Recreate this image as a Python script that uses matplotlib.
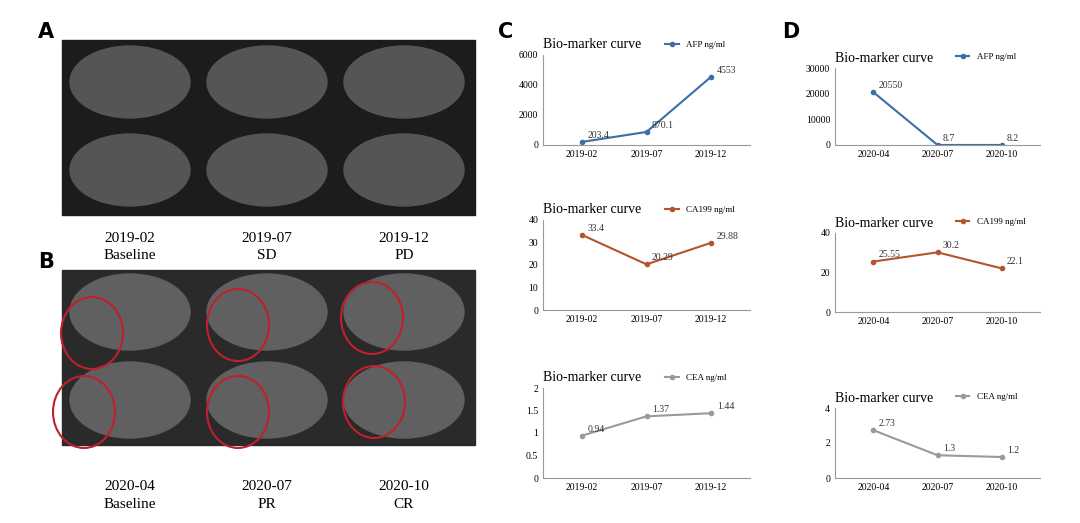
import matplotlib
matplotlib.use("Agg")
import matplotlib.pyplot as plt
from matplotlib.patches import Ellipse, Rectangle

W, H = 1080, 523

c_dates = ["2019-02", "2019-07", "2019-12"]
d_dates = ["2020-04", "2020-07", "2020-10"]
c_afp = [203.4, 870.1, 4553]
c_ca199 = [33.4, 20.29, 29.88]
c_cea = [0.94, 1.37, 1.44]
d_afp = [20550, 8.7, 8.2]
d_ca199 = [25.55, 30.2, 22.1]
d_cea = [2.73, 1.3, 1.2]

a_labels = [("2019-02", "Baseline"), ("2019-07", "SD"), ("2019-12", "PD")]
b_labels = [("2020-04", "Baseline"), ("2020-07", "PR"), ("2020-10", "CR")]

fig = plt.figure(figsize=(W / 100, H / 100), dpi=100)
plt.rcParams["font.family"] = "Liberation Serif"


def px_axes(x0, y0, x1, y1):
    return fig.add_axes([x0 / W, 1 - y1 / H, (x1 - x0) / W, (y1 - y0) / H])


# image panels (placeholders for the MRI scans)
bg = px_axes(0, 0, W, H)
bg.set_xlim(0, W)
bg.set_ylim(H, 0)
bg.axis("off")
bg.add_patch(Rectangle((62, 40), 413, 175, color="#1c1c1c"))
bg.add_patch(Rectangle((62, 270), 413, 175, color="#2a2a2a"))
for i in range(3):
    for j in range(2):
        cx = 62 + 137 * i + 68
        bg.add_patch(Ellipse((cx, 82 + 88 * j), 120, 72, color="#555555"))
        bg.add_patch(Ellipse((cx, 312 + 88 * j), 120, 76, color="#606060"))
for cx, cy in [(92, 333), (238, 325), (372, 318), (84, 412), (238, 412), (374, 402)]:
    bg.add_patch(Ellipse((cx, cy), 62, 72, fill=False, ec="#c0202a", lw=1.5))
for k, (d, s) in enumerate(a_labels):
    x = 130 + 137 * k
    bg.text(x, 242, d, ha="center", fontsize=11)
    bg.text(x, 259, s, ha="center", fontsize=11)
for k, (d, s) in enumerate(b_labels):
    x = 130 + 137 * k
    bg.text(x, 490, d, ha="center", fontsize=11)
    bg.text(x, 508, s, ha="center", fontsize=11)
for lbl, x, y in [("A", 38, 38), ("B", 38, 268), ("C", 498, 38), ("D", 782, 38)]:
    bg.text(x, y, lbl, fontsize=15, fontweight="bold", family="DejaVu Sans")


def chart(box, dates, vals, color, name, ylim, yticks, fmt):
    ax = px_axes(*box)
    xs = range(len(dates))
    ax.plot(xs, vals, color=color, lw=1.5, marker="o", ms=3, label=name)
    ax.set_xlim(-0.6, 2.6)
    ax.set_ylim(*ylim)
    ax.set_yticks(yticks)
    ax.set_yticklabels([fmt(t) for t in yticks], fontsize=7)
    ax.set_xticks(list(xs))
    ax.set_xticklabels(dates, fontsize=7)
    for s in ["top", "right"]:
        ax.spines[s].set_visible(False)
    ax.spines["left"].set_color("#999999")
    ax.spines["bottom"].set_color("#999999")
    ax.tick_params(length=0)
    for x, v in zip(xs, vals):
        ax.annotate(f"{v:g}", (x, v), xytext=(4, 3), textcoords="offset points",
                    fontsize=7, color="#333333")
    ax.text(0.0, 1.08, "Bio-marker curve", transform=ax.transAxes, fontsize=10)
    ax.legend(loc="lower left", bbox_to_anchor=(0.55, 0.98), frameon=False,
              fontsize=6.5, handlelength=1.5)
    return ax


blue = "#3a6fa8"
red = "#b5532a"
gray = "#9a9a9a"
chart((543, 55, 750, 145), c_dates, c_afp, blue, "AFP ng/ml", (0, 6000), [0, 2000, 4000, 6000], lambda t: f"{t:g}")
chart((543, 220, 750, 310), c_dates, c_ca199, red, "CA199 ng/ml", (0, 40), [0, 10, 20, 30, 40], lambda t: f"{t:g}")
chart((543, 388, 750, 478), c_dates, c_cea, gray, "CEA ng/ml", (0, 2), [0, 0.5, 1, 1.5, 2], lambda t: f"{t:g}")
chart((835, 68, 1040, 145), d_dates, d_afp, blue, "AFP ng/ml", (0, 30000), [0, 10000, 20000, 30000], lambda t: f"{t:g}")
chart((835, 233, 1040, 312), d_dates, d_ca199, red, "CA199 ng/ml", (0, 40), [0, 20, 40], lambda t: f"{t:g}")
chart((835, 408, 1040, 478), d_dates, d_cea, gray, "CEA ng/ml", (0, 4), [0, 2, 4], lambda t: f"{t:g}")

fig.savefig("out.png", dpi=100)
